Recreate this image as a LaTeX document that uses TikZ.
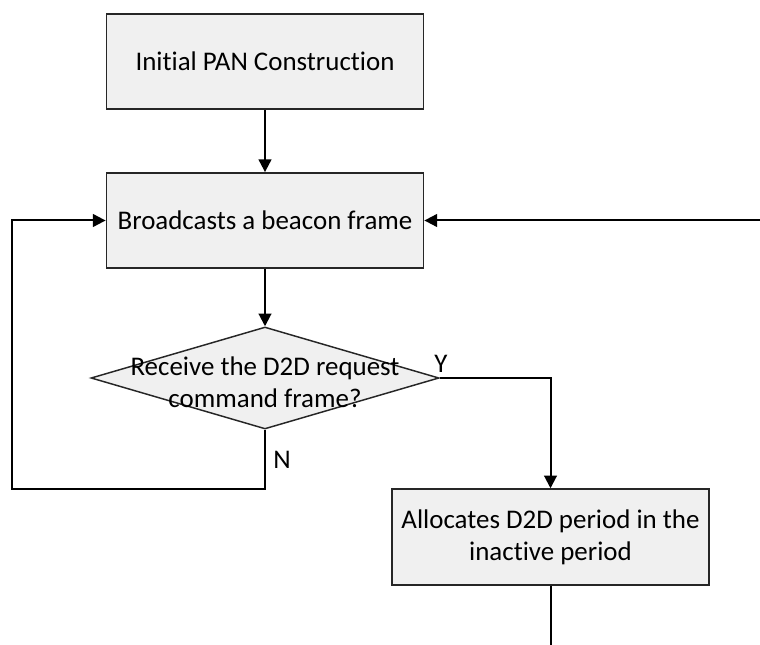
\documentclass[tikz,border=0pt]{standalone}
\usepackage{fontspec}
\setmainfont{Carlito}[Ligatures={NoCommon,NoRare}]
\usetikzlibrary{arrows.meta,shapes.geometric}
\definecolor{boxfill}{HTML}{F0F0F0}
\begin{document}
\begin{tikzpicture}[x=0.75pt,y=-0.75pt,
  font=\fontsize{20.2}{24}\selectfont,
  stepbox/.style={draw=black!85,line width=1.1pt,fill=boxfill,align=center,
    minimum width=238pt,minimum height=71.5pt,inner sep=0pt},
  decision/.style={diamond,draw=black!85,line width=1.1pt,fill=boxfill,
    minimum width=261pt,minimum height=76.5pt,inner sep=0pt},
  flow/.style={draw=black,line width=1.5pt},
  arr/.style={flow,-{Triangle[length=9.5pt,width=9.5pt]}},
  tag/.style={font=\fontsize{20.2}{24}\selectfont}]
\useasboundingbox (0,0) rectangle (760,645);

\node[stepbox] (init) at (265,61.5) {Initial PAN Construction};
\node[stepbox] (beacon) at (265,220.5) {Broadcasts a beacon frame};
\node[decision] (ask) at (265,378) {};
\node[align=center,inner sep=0pt] (asktext) at (265,382.5) {Receive the D2D request\\command frame?};
\node[stepbox,minimum width=238pt,minimum height=72pt] (alloc) at (550.5,537) {Allocates D2D period in the\\inactive period};

\coordinate (rightin) at (760,220.5);
\coordinate (bottomout) at (550.5,645);

\draw[arr] (init) -- (beacon);
\draw[arr] (beacon) -- (ask);
\draw[arr] (rightin) -- (beacon.east);
\draw[arr] (ask.east) -| (alloc.north);
\draw[arr] (ask.south) -- (265,489) -| (12,220.5) -- (beacon.west);
\draw[flow] (alloc.south) -- (bottomout);

\node[tag] (ylabel) at (441,364) {Y};
\node[tag] (nlabel) at (282,460) {N};
\end{tikzpicture}
\end{document}
